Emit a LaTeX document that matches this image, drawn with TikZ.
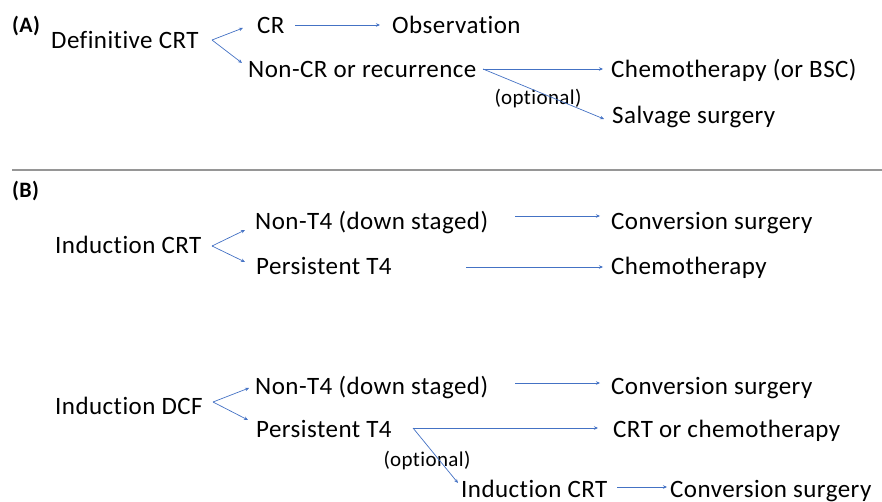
\documentclass[tikz,border=0pt]{standalone}
\usepackage{fontspec}
\setmainfont{Carlito}[LetterSpace=1.8,Ligatures={NoCommon}]
\usetikzlibrary{arrows.meta}
\definecolor{arr}{RGB}{68,114,196}
\definecolor{sep}{RGB}{150,150,150}
\begin{document}
\begin{tikzpicture}[x=1pt,y=-1pt,
  txt/.style={inner sep=0pt,anchor=base west,font=\fontsize{25}{30}\selectfont},
  lab/.style={inner sep=0pt,anchor=base west,font=\bfseries\fontsize{22}{26}\selectfont},
  opt/.style={inner sep=0pt,anchor=base,font=\fontsize{21}{25}\selectfont},
  ar/.style={draw=arr,line width=0.7pt,-{Stealth[length=4pt,width=3.5pt]}}]
\useasboundingbox (0,0) rectangle (882,502);
% (A)
\node[lab] (A) at (12,33) {(A)};
\node[txt] (dcrt) at (51,49) {Definitive CRT};
\node[txt] (cr) at (257,34) {CR};
\node[txt] (obs) at (392,34) {Observation};
\node[txt] (ncr) at (248,78) {Non-CR or recurrence};
\node[txt] (chemoA) at (611,78) {Chemotherapy (or BSC)};
\node[txt] (salv) at (612,124) {Salvage surgery};
\node[opt] (optA) at (538,105) {(optional)};
\coordinate (fa) at (212,40);
\coordinate (fb) at (483,69);
\draw[ar] (fa) -- (243,28);
\draw[ar] (fa) -- (242,63);
\draw[ar] (295,25) -- (380,25);
\draw[ar] (fb) -- (603,69);
\draw[ar] (fb) -- (604,119);
% separator
\draw[sep,line width=1.4pt] (12,170) -- (882,170);
% (B)
\node[lab] (B) at (12,198) {(B)};
\node[txt] (icrt) at (55,254) {Induction CRT};
\node[txt] (nt4a) at (255,230) {Non-T4 (down staged)};
\node[txt] (convA) at (611,230) {Conversion surgery};
\node[txt] (pt4a) at (256,275) {Persistent T4};
\node[txt] (chemoB) at (611,275) {Chemotherapy};
\coordinate (fc) at (212,246);
\draw[ar] (fc) -- (245,230);
\draw[ar] (fc) -- (245,262);
\draw[ar] (515,216) -- (600,216);
\draw[ar] (466,267) -- (603,267);
% DCF
\node[txt] (idcf) at (55,414) {Induction DCF};
\node[txt] (nt4b) at (255,394) {Non-T4 (down staged)};
\node[txt] (convB) at (611,394) {Conversion surgery};
\node[txt] (pt4b) at (256,437) {Persistent T4};
\node[txt] (crtc) at (613,437) {CRT or chemotherapy};
\node[opt] (optB) at (427,466) {(optional)};
\node[txt] (icrt2) at (461,497) {Induction CRT};
\node[txt] (convC) at (670,497) {Conversion surgery};
\coordinate (fd) at (213,402);
\coordinate (fe) at (413,428);
\draw[ar] (fd) -- (249,388);
\draw[ar] (fd) -- (248,420);
\draw[ar] (515,383) -- (600,383);
\draw[ar] (fe) -- (598,428);
\draw[ar] (fe) -- (458,483);
\draw[ar] (617,487) -- (667,487);
\end{tikzpicture}
\end{document}
